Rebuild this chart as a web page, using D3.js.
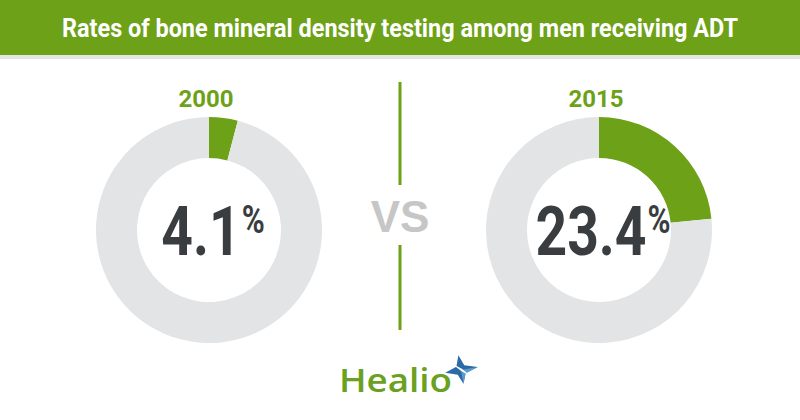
<!DOCTYPE html>
<html>
<head>
<meta charset="utf-8">
<script src="https://cdn.jsdelivr.net/npm/d3@7"></script>
<style>
  body { margin: 0; background: #fff; }
  svg { display: block; }
</style>
</head>
<body>
<script>
const title = "Rates of bone mineral density testing among men receiving ADT";
const years = ["2000", "2015"];
const rates = [4.1, 23.4];

const W = 800, H = 420;
const green = "#6da118", ringGray = "#e3e4e6", dark = "#3a3d40";
const condense = 0.8;

const svg = d3.select("body").append("svg").attr("width", W).attr("height", H);

// header bar
svg.append("rect").attr("x", 0).attr("y", 0).attr("width", W).attr("height", 55).attr("fill", green);
svg.append("rect").attr("x", 0).attr("y", 55).attr("width", W).attr("height", 4).attr("fill", "#e4e4e4");
svg.append("text")
  .attr("x", W / 2).attr("y", 37)
  .attr("text-anchor", "middle")
  .attr("font-family", "Roboto")
  .attr("font-weight", 700)
  .attr("font-size", 25)
  .attr("fill", "#fff")
  .attr("textLength", 676)
  .attr("lengthAdjust", "spacingAndGlyphs")
  .text(title);

// positions of the two donuts
const x = d3.scalePoint().domain(years).range([209, 599]);
const cy = 230;
const outerR = 113, innerR = 72;

const pie = d3.pie().sort(null).value(d => d);
const arc = d3.arc().innerRadius(innerR).outerRadius(outerR);

years.forEach((yr, i) => {
  const g = svg.append("g").attr("transform", `translate(${x(yr)},${cy})`);
  g.selectAll("path")
    .data(pie([rates[i], 100 - rates[i]]))
    .join("path")
    .attr("d", arc)
    .attr("fill", (d, j) => j === 0 ? green : ringGray);

  svg.append("text")
    .attr("x", x(yr) - 3).attr("y", 107)
    .attr("text-anchor", "middle")
    .attr("font-family", "Roboto")
    .attr("font-weight", 700)
    .attr("font-size", 24)
    .attr("fill", green)
    .text(yr);

  // value label: condensed number + raised %
  const lab = g.append("g").attr("transform", `scale(${condense},1)`);
  const num = lab.append("text")
    .attr("y", 25)
    .attr("font-family", "Roboto")
    .attr("font-weight", 700)
    .attr("font-size", 69)
    .attr("fill", dark)
    .text(rates[i].toFixed(1));
  const pct = lab.append("text")
    .attr("y", 3)
    .attr("font-family", "Roboto")
    .attr("font-weight", 700)
    .attr("font-size", 39)
    .attr("fill", dark)
    .text("%");
  const nw = num.node().getBBox().width, pw = pct.node().getBBox().width;
  const gap = 1 / condense;
  const start = 4 / condense - (nw + gap + pw) / 2;
  num.attr("x", start);
  pct.attr("x", start + nw + gap);
});

// divider + VS
svg.append("line").attr("x1", 400).attr("x2", 400).attr("y1", 82).attr("y2", 185)
  .attr("stroke", green).attr("stroke-width", 3);
svg.append("line").attr("x1", 400).attr("x2", 400).attr("y1", 245).attr("y2", 330)
  .attr("stroke", green).attr("stroke-width", 3);
svg.append("text")
  .attr("x", 400).attr("y", 232)
  .attr("text-anchor", "middle")
  .attr("font-family", "Liberation Sans, Arial")
  .attr("font-weight", 700)
  .attr("font-size", 44)
  .attr("fill", "#c6c6c6")
  .text("VS");

// Healio logo
svg.append("text")
  .attr("x", 339).attr("y", 392)
  .attr("font-family", "Open Sans")
  .attr("font-weight", 600)
  .attr("font-size", 32)
  .attr("fill", "#6aa121")
  .attr("textLength", 113)
  .attr("lengthAdjust", "spacingAndGlyphs")
  .text("Healio");
const star = svg.append("g").attr("transform", "translate(461,370) rotate(-10)");
star.append("path")
  .attr("d", "M0,-15 L4,-4 L17,0 L4,4 L0,14 L-4,4 L-16,0 L-4,-4 Z")
  .attr("fill", "#2b6aa5");
star.append("path")
  .attr("d", "M0,0 L17,0 L4,4 L0,14 Z")
  .attr("fill", "#5d9bcf");
star.append("path")
  .attr("d", "M-9,-9 L1,-1 L10,9 L0,1 Z")
  .attr("fill", "#fff");
</script>
</body>
</html>
